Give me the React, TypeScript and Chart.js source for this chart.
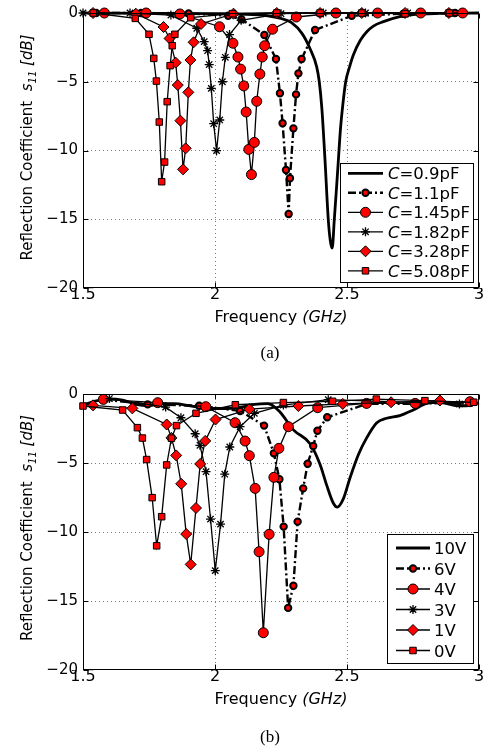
import React, { useEffect, useRef } from 'react';
import { Chart, registerables } from 'chart.js';

Chart.register(...registerables);

const SANS = '"DejaVu Sans", "Liberation Sans", Arial, sans-serif';
const SERIF = '"Liberation Serif", "Times New Roman", serif';
const RED = '#ff0000';

// ---------- Axis ticks ----------
const X_TICKS = [1.5, 2, 2.5, 3];
const Y_TICKS = [-20, -15, -10, -5, 0];

// ---------- Panel (a): capacitance sweep ----------
const A_LABELS = ['=0.9pF', '=1.1pF', '=1.45pF', '=1.82pF', '=3.28pF', '=5.08pF'];

const A_F09 = [1.5, 1.8, 2.0, 2.1, 2.2, 2.25, 2.29, 2.33, 2.36, 2.385, 2.395, 2.405, 2.417, 2.429, 2.437, 2.444, 2.452, 2.46, 2.467, 2.475, 2.484, 2.495, 2.51, 2.524, 2.55, 2.575, 2.6, 2.638, 2.7, 2.76, 2.85, 3.0];
const A_DB09 = [0, -0.02, -0.05, -0.08, -0.2, -0.4, -0.7, -1.5, -2.6, -3.9, -5.0, -7.0, -10.8, -15.0, -16.6, -17.1, -15.0, -12.8, -10.8, -8.5, -6.7, -5.0, -3.9, -3.05, -2.0, -1.36, -0.95, -0.63, -0.27, -0.1, -0.03, 0];

const A_F11 = [1.55, 1.72, 1.9, 2.05, 2.1, 2.187, 2.231, 2.246, 2.256, 2.269, 2.279, 2.284, 2.297, 2.307, 2.316, 2.328, 2.379, 2.518, 2.714, 2.909];
const A_DB11 = [0, 0, -0.03, -0.2, -0.45, -1.6, -3.35, -5.84, -8.02, -11.42, -14.62, -12.02, -8.39, -5.92, -4.39, -3.35, -1.24, -0.2, -0.05, 0];

const A_F145 = [1.581, 1.739, 1.867, 2.017, 2.068, 2.087, 2.097, 2.109, 2.118, 2.128, 2.138, 2.149, 2.158, 2.17, 2.179, 2.188, 2.218, 2.308, 2.458, 2.616, 2.779, 2.938];
const A_DB145 = [0, 0, -0.07, -1.0, -2.2, -3.2, -4.08, -5.3, -7.2, -9.92, -11.75, -9.41, -6.42, -4.44, -3.2, -2.38, -1.18, -0.29, 0, 0, 0, 0];

const A_F182 = [1.5, 1.678, 1.833, 1.931, 1.959, 1.972, 1.978, 1.986, 1.995, 2.006, 2.018, 2.028, 2.039, 2.055, 2.099, 2.25, 2.41, 2.57, 2.73, 2.885];
const A_DB182 = [0, 0, -0.15, -1.11, -2.08, -2.74, -3.75, -5.48, -8.05, -10.01, -7.78, -5.0, -3.22, -1.57, -0.53, -0.05, 0, 0, 0, 0];

const A_F328 = [1.538, 1.7, 1.805, 1.828, 1.851, 1.859, 1.869, 1.879, 1.889, 1.899, 1.907, 1.919, 1.947, 2.07, 2.234, 2.398, 2.556, 2.72, 2.886];
const A_DB328 = [0, -0.05, -1.02, -1.85, -3.61, -5.24, -7.83, -11.37, -9.84, -5.77, -3.42, -2.13, -0.8, -0.05, 0, 0, 0, 0, 0];

const A_F508 = [1.539, 1.698, 1.75, 1.768, 1.778, 1.789, 1.798, 1.809, 1.819, 1.83, 1.838, 1.848, 1.908, 2.066, 2.234, 2.398, 2.556, 2.72, 2.888];
const A_DB508 = [0, -0.39, -1.55, -3.3, -4.95, -7.93, -12.27, -10.84, -6.45, -3.83, -2.38, -1.55, -0.34, -0.05, 0, 0, 0, -0.05, 0];

// ---------- Panel (b): bias voltage sweep ----------
const B_LABELS = ['10V', '6V', '4V', '3V', '1V', '0V'];

const B_F10 = [1.5, 1.55, 1.6, 1.65, 1.7, 1.75, 1.8, 1.85, 1.9, 1.95, 2.0, 2.05, 2.1, 2.15, 2.2, 2.246, 2.297, 2.36, 2.398, 2.423, 2.448, 2.463, 2.486, 2.511, 2.543, 2.574, 2.612, 2.65, 2.7, 2.751, 2.802, 2.852, 2.915, 2.953, 3.0];
const B_DB10 = [-0.8, -0.5, -0.35, -0.45, -0.75, -0.85, -0.7, -0.7, -0.85, -1.0, -1.05, -1.05, -0.95, -0.75, -0.7, -1.3, -2.6, -3.6, -5.1, -6.6, -7.9, -8.2, -7.6, -6.1, -4.4, -3.2, -2.1, -1.76, -1.57, -1.16, -0.68, -0.6, -0.85, -0.85, -0.65];

const B_F6 = [1.58, 1.745, 1.94, 2.095, 2.186, 2.223, 2.244, 2.26, 2.277, 2.297, 2.313, 2.334, 2.351, 2.372, 2.388, 2.425, 2.574, 2.758, 2.97];
const B_DB6 = [-0.4, -0.75, -0.85, -1.23, -2.29, -4.3, -6.18, -9.61, -15.5, -13.89, -9.25, -6.84, -5.05, -3.77, -2.66, -1.69, -0.72, -0.7, -0.6];

const B_F4 = [1.577, 1.783, 1.965, 2.076, 2.114, 2.13, 2.152, 2.167, 2.183, 2.205, 2.223, 2.242, 2.278, 2.389, 2.574, 2.758, 2.966];
const B_DB4 = [-0.39, -0.63, -0.92, -2.08, -3.41, -4.47, -6.84, -11.43, -17.3, -10.17, -6.04, -3.94, -2.37, -0.99, -0.68, -0.68, -0.56];

const B_F3 = [1.6, 1.813, 1.871, 1.925, 1.943, 1.966, 1.983, 2.001, 2.021, 2.037, 2.056, 2.095, 2.149, 2.259, 2.429, 2.926];
const B_DB3 = [-0.33, -0.95, -1.72, -2.88, -3.72, -5.63, -9.06, -12.8, -9.43, -5.81, -3.84, -2.37, -1.4, -0.8, -0.41, -0.72];

const B_F1 = [1.538, 1.687, 1.817, 1.835, 1.853, 1.872, 1.891, 1.908, 1.928, 1.944, 1.963, 2.002, 2.13, 2.316, 2.484, 2.667, 2.852];
const B_DB1 = [-0.82, -1.04, -2.21, -3.18, -4.45, -6.51, -10.15, -12.35, -8.26, -5.07, -3.4, -1.85, -1.1, -0.87, -0.72, -0.6, -0.47];

const B_F0 = [1.5, 1.65, 1.706, 1.725, 1.741, 1.762, 1.779, 1.798, 1.817, 1.835, 1.854, 1.928, 2.077, 2.259, 2.445, 2.611, 2.795, 2.98];
const B_DB0 = [-0.87, -1.16, -2.44, -3.19, -4.75, -7.51, -11.0, -8.89, -5.14, -3.2, -2.29, -1.4, -0.78, -0.62, -0.53, -0.37, -0.48, -0.6];

// ---------- styles ----------
const STYLE: Record<string, any> = {
  thick: { borderWidth: 2.8, pointRadius: 0, borderDash: [], cubicInterpolationMode: 'monotone' },
  dashdot: { borderWidth: 2.4, borderDash: [8, 3, 2, 3], pointStyle: 'circle', pointRadius: 3.2, pointBorderWidth: 2 },
  circle: { borderWidth: 1.3, pointStyle: 'circle', pointRadius: 5, pointBorderWidth: 1 },
  star: { borderWidth: 1.3, pointStyle: 'star', pointRadius: 4.5, pointBorderWidth: 1.3 },
  diamond: { borderWidth: 1.3, pointStyle: 'rectRot', pointRadius: 5.5, pointBorderWidth: 1 },
  square: { borderWidth: 1.3, pointStyle: 'rect', pointRadius: 4.6, pointBorderWidth: 1 },
};
const STYLE_ORDER = ['thick', 'dashdot', 'circle', 'star', 'diamond', 'square'];

function makeDataset(label: string, fs: number[], dbs: number[], idx: number) {
  const st = STYLE_ORDER[idx];
  const s = STYLE[st];
  return {
    label,
    data: fs.map((x, i) => ({ x, y: dbs[i] })),
    borderColor: '#000',
    backgroundColor: RED,
    pointBackgroundColor: RED,
    pointBorderColor: '#000',
    pointHoverRadius: s.pointRadius,
    tension: 0,
    fill: false,
    clip: false,
    order: 10 - idx,
    ...s,
  };
}

function drawMarker(ctx: CanvasRenderingContext2D, st: string, x: number, y: number) {
  const s = STYLE[st];
  if (!s.pointRadius) return;
  const r = s.pointRadius;
  ctx.save();
  ctx.setLineDash([]);
  ctx.lineWidth = s.pointBorderWidth;
  ctx.strokeStyle = '#000';
  ctx.fillStyle = RED;
  ctx.beginPath();
  if (s.pointStyle === 'circle') {
    ctx.arc(x, y, r, 0, Math.PI * 2);
  } else if (s.pointStyle === 'rect') {
    const h = r * Math.SQRT1_2;
    ctx.rect(x - h, y - h, 2 * h, 2 * h);
  } else if (s.pointStyle === 'rectRot') {
    ctx.moveTo(x - r, y);
    ctx.lineTo(x, y - r);
    ctx.lineTo(x + r, y);
    ctx.lineTo(x, y + r);
    ctx.closePath();
  } else if (s.pointStyle === 'star') {
    const d = r * Math.SQRT1_2;
    ctx.moveTo(x - r, y); ctx.lineTo(x + r, y);
    ctx.moveTo(x, y - r); ctx.lineTo(x, y + r);
    ctx.moveTo(x - d, y - d); ctx.lineTo(x + d, y + d);
    ctx.moveTo(x - d, y + d); ctx.lineTo(x + d, y - d);
    ctx.stroke();
    ctx.restore();
    return;
  }
  ctx.fill();
  ctx.stroke();
  ctx.restore();
}

interface PanelConf {
  id: string;
  height: number;
  areaTop: number;
  areaBottom: number;
  caption: string;
  captionY: number;
  yTitleY: number;
  legendBox: [number, number, number, number];
  legendRow0: number;
  legendStep: number;
  legendLine: [number, number];
  legendTextX: number;
  legendItalic: string;
  labels: string[];
}

function drawYTitle(ctx: CanvasRenderingContext2D, cx: number, cy: number) {
  const parts = [
    { t: 'Reflection Coefficient  ', f: `15px ${SANS}`, dy: 0 },
    { t: 's', f: `italic 15px ${SANS}`, dy: 0 },
    { t: '11', f: `italic 10px ${SANS}`, dy: 4 },
    { t: ' ', f: `15px ${SANS}`, dy: 0 },
    { t: '[dB]', f: `italic 15px ${SANS}`, dy: 0 },
  ];
  ctx.save();
  ctx.translate(cx, cy);
  ctx.rotate(-Math.PI / 2);
  ctx.fillStyle = '#000';
  ctx.textBaseline = 'alphabetic';
  ctx.textAlign = 'left';
  let total = 0;
  for (const p of parts) { ctx.font = p.f; total += ctx.measureText(p.t).width; }
  let x = -total / 2;
  for (const p of parts) {
    ctx.font = p.f;
    ctx.fillText(p.t, x, p.dy);
    x += ctx.measureText(p.t).width;
  }
  ctx.restore();
}

function makeDecor(p: PanelConf, dsStyles: string[], dashes: any[], widths: number[]) {
  return {
    id: 'decor_' + p.id,
    afterDatasetsDraw(chart: any) {
      const { ctx, chartArea: a, scales } = chart;
      ctx.save();
      ctx.strokeStyle = '#000';
      ctx.lineWidth = 1;
      ctx.setLineDash([]);
      const L = Math.round(a.left) + 0.5, R = Math.round(a.right) - 0.5;
      const T = Math.round(a.top) + 0.5, B = Math.round(a.bottom) - 0.5;
      ctx.strokeRect(L, T, R - L, B - T);
      ctx.beginPath();
      for (const v of X_TICKS) {
        const x = Math.round(scales.x.getPixelForValue(v)) + 0.5;
        ctx.moveTo(x, B); ctx.lineTo(x, B - 5);
        ctx.moveTo(x, T); ctx.lineTo(x, T + 5);
      }
      for (const v of Y_TICKS) {
        const y = Math.round(scales.y.getPixelForValue(v)) + 0.5;
        ctx.moveTo(L, y); ctx.lineTo(L + 5, y);
        ctx.moveTo(R, y); ctx.lineTo(R - 5, y);
      }
      ctx.stroke();
      ctx.restore();
    },
    afterDraw(chart: any) {
      const { ctx, chartArea: a } = chart;
      ctx.save();
      // legend
      const [bx, by, bw, bh] = p.legendBox;
      ctx.fillStyle = '#fff';
      ctx.fillRect(bx, by, bw, bh);
      ctx.strokeStyle = '#000';
      ctx.lineWidth = 1;
      ctx.strokeRect(bx + 0.5, by + 0.5, bw, bh);
      p.labels.forEach((lab, i) => {
        const y = p.legendRow0 + i * p.legendStep;
        const st = dsStyles[i];
        ctx.save();
        ctx.strokeStyle = '#000';
        ctx.lineWidth = widths[i];
        ctx.setLineDash(dashes[i] || []);
        ctx.beginPath();
        ctx.moveTo(p.legendLine[0], y);
        ctx.lineTo(p.legendLine[1], y);
        ctx.stroke();
        ctx.restore();
        drawMarker(ctx, st, (p.legendLine[0] + p.legendLine[1]) / 2, y);
        ctx.fillStyle = '#000';
        ctx.textBaseline = 'alphabetic';
        ctx.textAlign = 'left';
        let tx = p.legendTextX;
        if (p.legendItalic) {
          ctx.font = `italic 16.5px ${SANS}`;
          ctx.fillText(p.legendItalic, tx, y + 6);
          tx += ctx.measureText(p.legendItalic).width;
        }
        ctx.font = `16.5px ${SANS}`;
        ctx.fillText(lab, tx, y + 6);
      });
      // x title
      const cx = (a.left + a.right) / 2;
      const t1 = 'Frequency ', t2 = '(GHz)';
      ctx.font = `16px ${SANS}`;
      const w1 = ctx.measureText(t1).width;
      ctx.font = `italic 16px ${SANS}`;
      const w2 = ctx.measureText(t2).width;
      const sx = cx - (w1 + w2) / 2;
      ctx.fillStyle = '#000';
      ctx.textAlign = 'left';
      ctx.textBaseline = 'alphabetic';
      ctx.font = `16px ${SANS}`;
      ctx.fillText(t1, sx, a.bottom + 34);
      ctx.font = `italic 16px ${SANS}`;
      ctx.fillText(t2, sx + w1, a.bottom + 34);
      // y title
      drawYTitle(ctx, 31.5, p.yTitleY);
      // caption
      ctx.font = `17px ${SERIF}`;
      ctx.textAlign = 'center';
      ctx.fillText(p.caption, 270, p.captionY);
      ctx.restore();
    },
  };
}

function buildConfig(p: PanelConf, series: [number[], number[]][]) {
  const datasets = series.map((s, i) => makeDataset(p.labels[i], s[0], s[1], i));
  const dsStyles = STYLE_ORDER.slice();
  const dashes = STYLE_ORDER.map((st) => STYLE[st].borderDash || []);
  const widths = STYLE_ORDER.map((st) => STYLE[st].borderWidth);
  const gridColor = (lo: number, hi: number) => (c: any) => {
    const v = c.tick ? c.tick.value : undefined;
    return v !== undefined && v > lo + 1e-9 && v < hi - 1e-9 ? '#7a7a7a' : 'rgba(0,0,0,0)';
  };
  return {
    type: 'line',
    data: { datasets },
    options: {
      responsive: false,
      animation: false,
      devicePixelRatio: 1,
      events: [],
      layout: { padding: { left: 0, right: 8, top: p.areaTop, bottom: p.height - p.areaBottom - 22 } },
      plugins: { legend: { display: false }, tooltip: { enabled: false }, title: { display: false } },
      scales: {
        x: {
          type: 'linear',
          min: 1.5,
          max: 3,
          ticks: {
            stepSize: 0.5,
            autoSkip: false,
            maxRotation: 0,
            padding: -3,
            color: '#000',
            font: { family: SANS, size: 16 },
            callback: (v: any) => String(Number(v)),
          },
          grid: { color: gridColor(1.5, 3), lineWidth: 1, drawTicks: false },
          border: { display: false, dash: [1, 3] },
          afterFit: (s: any) => { s.height = 22; s.paddingLeft = 0; s.paddingRight = 0; },
        },
        y: {
          type: 'linear',
          min: -20,
          max: 0,
          ticks: {
            stepSize: 5,
            padding: 5,
            color: '#000',
            font: { family: SANS, size: 15 },
            callback: (v: any) => { const n = Number(v); return n < 0 ? '\u2212' + Math.abs(n) : String(n); },
          },
          grid: { color: gridColor(-20, 0), lineWidth: 1, drawTicks: false },
          border: { display: false, dash: [1, 3] },
          afterFit: (s: any) => { s.width = 83; s.paddingTop = 0; s.paddingBottom = 0; },
        },
      },
    },
    plugins: [makeDecor(p, dsStyles, dashes, widths)],
  } as any;
}

const PANEL_A: PanelConf = {
  id: 'a', height: 370, areaTop: 13, areaBottom: 288, caption: '(a)', captionY: 358, yTitleY: 147.5,
  legendBox: [340, 163, 133, 119], legendRow0: 173.3, legendStep: 19.5, legendLine: [348, 383], legendTextX: 388,
  legendItalic: 'C', labels: A_LABELS,
};
const PANEL_B: PanelConf = {
  id: 'b', height: 381, areaTop: 24, areaBottom: 300, caption: '(b)', captionY: 372, yTitleY: 158,
  legendBox: [387, 164, 86, 129], legendRow0: 178, legendStep: 20.5, legendLine: [396, 430], legendTextX: 434,
  legendItalic: '', labels: B_LABELS,
};

const SERIES_A: [number[], number[]][] = [[A_F09, A_DB09], [A_F11, A_DB11], [A_F145, A_DB145], [A_F182, A_DB182], [A_F328, A_DB328], [A_F508, A_DB508]];
const SERIES_B: [number[], number[]][] = [[B_F10, B_DB10], [B_F6, B_DB6], [B_F4, B_DB4], [B_F3, B_DB3], [B_F1, B_DB1], [B_F0, B_DB0]];

function Panel({ conf, series, top }: { conf: PanelConf; series: [number[], number[]][]; top: number }) {
  const ref = useRef<HTMLCanvasElement>(null);
  useEffect(() => {
    const chart = new Chart(ref.current as HTMLCanvasElement, buildConfig(conf, series));
    return () => chart.destroy();
  }, []);
  return (
    <canvas
      ref={ref}
      width={487}
      height={conf.height}
      style={{ position: 'absolute', left: 0, top, width: 487, height: conf.height }}
    />
  );
}

export default function App() {
  return (
    <div style={{ position: 'absolute', left: 0, top: 0, width: 487, height: 751, background: '#fff', overflow: 'hidden' }}>
      <Panel conf={PANEL_A} series={SERIES_A} top={0} />
      <Panel conf={PANEL_B} series={SERIES_B} top={370} />
    </div>
  );
}
